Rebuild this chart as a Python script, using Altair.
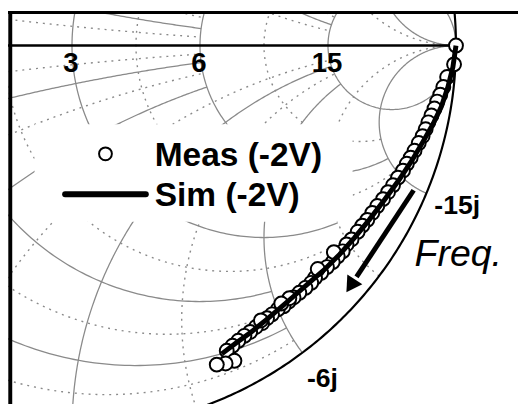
import altair as alt
import numpy as np
import pandas as pd

# ---------------- data (reflection coefficient) ----------------
meas_re = [1.000, 0.995, 0.977, 0.967, 0.959, 0.951, 0.944, 0.936, 0.928, 0.921,
           0.913, 0.903, 0.892, 0.882, 0.872, 0.862, 0.849, 0.836, 0.823, 0.810,
           0.795, 0.782, 0.769, 0.756, 0.744, 0.728, 0.715, 0.705, 0.692, 0.679,
           0.664, 0.649, 0.633, 0.623, 0.608, 0.592, 0.577, 0.564, 0.551, 0.536,
           0.521, 0.508, 0.495, 0.479, 0.464, 0.449, 0.433, 0.418, 0.403, 0.423,
           0.400, 0.377, 0.682, 0.640, 0.566, 0.545, 0.492]
meas_im = [0.000, -0.049, -0.082, -0.108, -0.128, -0.146, -0.164, -0.182, -0.200, -0.218,
           -0.236, -0.254, -0.274, -0.292, -0.308, -0.326, -0.344, -0.364, -0.382, -0.400,
           -0.418, -0.436, -0.454, -0.469, -0.485, -0.505, -0.518, -0.536, -0.549, -0.564,
           -0.577, -0.592, -0.605, -0.618, -0.631, -0.644, -0.656, -0.667, -0.679, -0.687,
           -0.700, -0.710, -0.723, -0.733, -0.746, -0.756, -0.769, -0.782, -0.795, -0.821,
           -0.828, -0.831, -0.538, -0.582, -0.658, -0.672, -0.716]
sim_re = [1.000, 0.992, 0.979, 0.962, 0.941, 0.915, 0.885, 0.851, 0.813, 0.774,
          0.736, 0.697, 0.659, 0.621, 0.582, 0.544, 0.505, 0.467, 0.428, 0.390]
sim_im = [0.000, -0.056, -0.108, -0.159, -0.203, -0.249, -0.300, -0.351, -0.403, -0.454,
          -0.500, -0.544, -0.582, -0.615, -0.649, -0.682, -0.715, -0.746, -0.774, -0.803]

# Smith-chart grid (normalised r and x) and where each arc stops (None = full)
major_r = [0.2, 0.5, 1, 2, 5]
major_r_xlim = [2, 2, 3, 5, None]
major_x = [0.2, 0.5, 1, 2, 5]
major_x_rlim = [2, 2, 5, 5, None]
minor_r = [0.1, 0.33, 0.7, 1.4, 3]
minor_r_xlim = [2, 2, 3, 5, 5]
minor_x = [0.1, 0.33, 0.7, 1.4, 3]
minor_x_rlim = [2, 2, 5, 5, None]

r_label_vals = [1, 2, 5]
r_labels = ["3", "6", "15"]
x_label_vals = [-5, -2]
x_labels = ["-15j", "-6j"]

# ---------------- geometry helpers ----------------
def gam(z):
    return (z - 1) / (z + 1)


def arc(kind, v, lim, n=260):
    if kind == "r":
        c = complex(v / (1 + v), 0)
        rad = 1 / (1 + v)
        if lim is None:
            ang = np.linspace(0, 2 * np.pi, n)
            p = c + rad * np.exp(1j * ang)
            return p.real, p.imag
        p0, p1, pm = gam(complex(v, -lim)), gam(complex(v, lim)), gam(complex(v, 0))
    else:
        c = complex(1, 1 / v)
        rad = 1 / abs(v)
        p0 = gam(complex(0, v))
        if lim is None:
            p1, pm = 1 + 0j, gam(complex(1, v))
        else:
            p1, pm = gam(complex(lim, v)), gam(complex(lim / 2, v))
    a0, a1, am = np.angle(p0 - c), np.angle(p1 - c), np.angle(pm - c)
    dm = (am - a0) % (2 * np.pi)
    d1 = (a1 - a0) % (2 * np.pi)
    if dm < d1:
        ang = a0 + np.linspace(0, d1, n)
    else:
        ang = a0 - np.linspace(0, 2 * np.pi - d1, n)
    p = c + rad * np.exp(1j * ang)
    return p.real, p.imag


def grid_frame(rs, rlims, xs_, xlims, tag):
    rows = []
    k = 0
    for v, lim in zip(rs, rlims):
        re, im = arc("r", v, lim)
        rows.append(pd.DataFrame({"re": re, "im": im, "o": np.arange(len(re)), "id": f"{tag}{k}"}))
        k += 1
    for v, lim in zip(xs_, xlims):
        for s in (1, -1):
            re, im = arc("x", s * v, lim)
            rows.append(pd.DataFrame({"re": re, "im": im, "o": np.arange(len(re)), "id": f"{tag}{k}"}))
            k += 1
    return pd.concat(rows, ignore_index=True)


major_df = grid_frame(major_r, major_r_xlim, major_x, major_x_rlim, "M")
minor_df = grid_frame(minor_r, minor_r_xlim, minor_x, minor_x_rlim, "m")
ure, uim = arc("r", 0, None, 720)
unit_df = pd.DataFrame({"re": ure, "im": uim, "o": np.arange(len(ure))})
axis_df = pd.DataFrame({"re": [-1.0], "re2": [1.0], "im": [0.0]})

meas_df = pd.DataFrame({"re": meas_re, "im": meas_im})
sim_df = pd.DataFrame({"re": sim_re, "im": sim_im, "o": np.arange(len(sim_re))})

rlab_df = pd.DataFrame({"re": [(r - 1) / (r + 1) for r in r_label_vals], "im": [0.0] * 3, "t": r_labels})
xl = [gam(complex(0, x)) * 1.087 for x in x_label_vals]
xlab_df = pd.DataFrame({"re": [p.real for p in xl], "im": [p.imag for p in xl], "t": x_labels})

# ---------------- scales ----------------
W, H = 518, 399
S = 390.0
xs = alt.Scale(domain=[-65 / S, (W - 65) / S], nice=False, zero=False)
ys = alt.Scale(domain=[(35 - H) / S, 35 / S], nice=False, zero=False)
X = alt.X("re:Q", scale=xs, axis=None)
Y = alt.Y("im:Q", scale=ys, axis=None)

GRID = "#8a8a8a"
FONT = "Liberation Sans"

major = alt.Chart(major_df).mark_line(color=GRID, strokeWidth=1.3, clip=True).encode(
    x=X, y=Y, detail="id:N", order="o:Q")
minor = alt.Chart(minor_df).mark_line(color=GRID, strokeWidth=1.4, strokeDash=[2, 5], clip=True).encode(
    x=X, y=Y, detail="id:N", order="o:Q")
unit = alt.Chart(unit_df).mark_line(color="black", strokeWidth=2.2, clip=True).encode(
    x=X, y=Y, order="o:Q")
raxis = alt.Chart(axis_df).mark_rule(color="black", strokeWidth=2.6, clip=True).encode(
    x=X, x2="re2:Q", y=Y)

rlab = alt.Chart(rlab_df).mark_text(font=FONT, fontWeight="bold", fontSize=28, dy=19, dx=-1,
                                    baseline="middle", align="center", color="black").encode(
    x=X, y=Y, text="t:N")
xlab = alt.Chart(xlab_df).mark_text(font=FONT, fontWeight="bold", fontSize=27,
                                    baseline="middle", align="center", color="black").encode(
    x=X, y=Y, text="t:N")

one = pd.DataFrame({"k": [0]})
leg_box = alt.Chart(one).mark_rect(color="white", opacity=1).encode(
    x=alt.value(27), x2=alt.value(350), y=alt.value(115), y2=alt.value(214))
leg_sym = alt.Chart(one).mark_point(shape="circle", filled=True, fill="white", stroke="black",
                                    strokeWidth=2, size=170, opacity=1).encode(
    x=alt.value(99), y=alt.value(145))
leg_line = alt.Chart(one).mark_rule(color="black", strokeWidth=6, strokeCap="round").encode(
    x=alt.value(58), x2=alt.value(140), y=alt.value(186))
leg_t1 = alt.Chart(pd.DataFrame({"t": ["Meas (-2V)"]})).mark_text(
    font=FONT, fontWeight="bold", fontSize=34, align="left", baseline="alphabetic", color="black").encode(
    x=alt.value(149), y=alt.value(157), text="t:N")
leg_t2 = alt.Chart(pd.DataFrame({"t": ["Sim (-2V)"]})).mark_text(
    font=FONT, fontWeight="bold", fontSize=34, align="left", baseline="alphabetic", color="black").encode(
    x=alt.value(149), y=alt.value(198), text="t:N")

meas = alt.Chart(meas_df).mark_point(shape="circle", filled=True, fill="white", stroke="black",
                                     strokeWidth=2, size=200, opacity=1, clip=True).encode(x=X, y=Y)
sim = alt.Chart(sim_df).mark_line(color="black", strokeWidth=5, clip=True).encode(
    x=X, y=Y, order="o:Q")

arrow = alt.Chart(one).mark_rule(color="black", strokeWidth=5).encode(
    x=alt.value(412), x2=alt.value(354), y=alt.value(182), y2=alt.value(270))
head = alt.Chart(one).mark_point(shape="triangle-down", filled=True, color="black", size=330,
                                 angle=33, opacity=1).encode(x=alt.value(348), y=alt.value(279))
freq = alt.Chart(pd.DataFrame({"t": ["Freq."]})).mark_text(
    font=FONT, fontStyle="italic", fontSize=38, align="left", baseline="alphabetic", color="black").encode(
    x=alt.value(413), y=alt.value(259), text="t:N")

left_border = alt.Chart(one).mark_rule(color="black", strokeWidth=4).encode(
    x=alt.value(2.3), y=alt.value(0), y2=alt.value(H))
top_border = alt.Chart(one).mark_rule(color="black", strokeWidth=3).encode(
    x=alt.value(0), x2=alt.value(W), y=alt.value(1.5))

chart = alt.layer(
    minor, major, unit, raxis, leg_box, leg_sym, leg_line, leg_t1, leg_t2,
    rlab, xlab, meas, sim, arrow, head, freq, left_border, top_border
).properties(width=W, height=H, padding=0,
             autosize=alt.AutoSizeParams(type="none")).configure_view(stroke=None)

chart.save("out.html", embed_options={"renderer": "svg", "actions": False})
